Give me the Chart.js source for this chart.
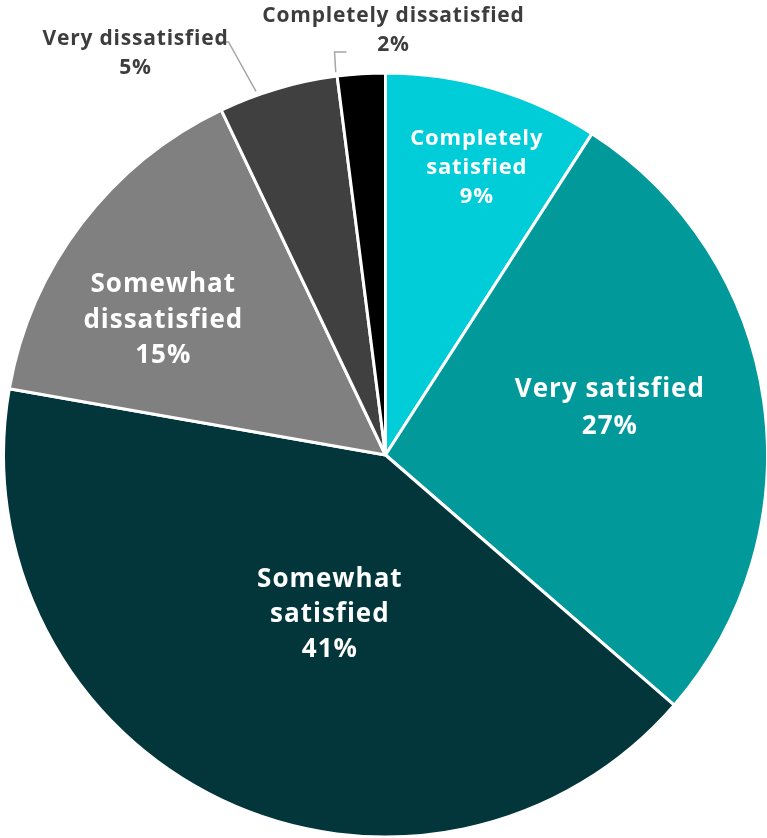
<!DOCTYPE html>
<html>
<head>
<meta charset="utf-8">
<script src="https://cdn.jsdelivr.net/npm/chart.js@4.4.0/dist/chart.umd.min.js"></script>
<style>
  html, body { margin: 0; padding: 0; background: #fff; }
  #wrap { width: 767px; height: 838px; position: relative; }
</style>
</head>
<body>
<div id="wrap"><canvas id="satisfactionPie"></canvas></div>
<script>
// Satisfaction shares (%)
const categories = [
    ['Completely', 'satisfied'],
    ['Very satisfied'],
    ['Somewhat', 'satisfied'],
    ['Somewhat', 'dissatisfied'],
    ['Very dissatisfied'],
    ['Completely dissatisfied']
];
const shares = [9, 27, 41, 15, 5, 2];
const sliceColors = ['#00cdd7', '#02999b', '#02363a', '#808080', '#404040', '#000000'];

// Label placement: inside labels by angle (deg clockwise from top) and radius fraction,
// outside labels by offset from pie centre plus a leader line.
const labelLayout = [
    { inside: true, angle: 17.6, dist: 0.79, size: 22, lineH: 29 },
    { inside: true, angle: 78.2, dist: 0.60, size: 26, lineH: 37 },
    { inside: true, angle: 199.2, dist: 0.443, size: 26, lineH: 35 },
    { inside: true, angle: 301.2, dist: 0.68, size: 26, lineH: 35.5 },
    { inside: false, dx: -250, dy: -401.5, size: 21, lineH: 29, leadAngle: 340.4, leader: [[-157, -413], [-169, -413]] },
    { inside: false, dx: 8, dy: -424.5, size: 21, lineH: 29, leadAngle: 352.6, leader: [[-51, -403], [-39, -403]] }
];

const FONT = '"Open Sans", Lato, sans-serif';

const sliceLabels = {
    id: 'sliceLabels',
    afterDatasetsDraw(chart) {
        const { ctx } = chart;
        const arc0 = chart.getDatasetMeta(0).data[0];
        const cx = arc0.x, cy = arc0.y, R = arc0.outerRadius;
        const polar = (deg, r) => {
            const a = (deg - 90) * Math.PI / 180;
            return [cx + r * Math.cos(a), cy + r * Math.sin(a)];
        };
        ctx.save();
        ctx.textAlign = 'center';
        ctx.textBaseline = 'middle';
        labelLayout.forEach((lay, i) => {
            const lines = categories[i].concat([shares[i] + '%']);
            ctx.font = `bold ${lay.size}px ${FONT}`;
            ctx.letterSpacing = (lay.size * 0.038).toFixed(2) + 'px';
            let x, y;
            if (lay.inside) {
                [x, y] = polar(lay.angle, R * lay.dist);
                ctx.fillStyle = '#ffffff';
            } else {
                x = cx + lay.dx;
                y = cy + lay.dy;
                ctx.fillStyle = '#3d3d3d';
                // leader line from the slice edge
                const [sx, sy] = polar(lay.leadAngle, R + 4);
                ctx.beginPath();
                ctx.moveTo(sx, sy);
                lay.leader.forEach(([px, py]) => ctx.lineTo(cx + px, cy + py));
                ctx.strokeStyle = '#a6a6a6';
                ctx.lineWidth = 1.5;
                ctx.stroke();
            }
            const top = y - (lines.length - 1) * lay.lineH / 2;
            lines.forEach((t, k) => ctx.fillText(t, x, top + k * lay.lineH));
        });
        ctx.restore();
    }
};

new Chart(document.getElementById('satisfactionPie'), {
    type: 'pie',
    data: {
        labels: categories,
        datasets: [{
            data: shares,
            backgroundColor: sliceColors,
            borderColor: '#ffffff',
            borderWidth: 3,
            radius: 382
        }]
    },
    options: {
        responsive: true,
        maintainAspectRatio: false,
        animation: false,
        layout: { padding: { top: 72, left: 4, right: 0, bottom: 0 } },
        plugins: { legend: { display: false }, tooltip: { enabled: false } }
    },
    plugins: [sliceLabels]
});
</script>
</body>
</html>
